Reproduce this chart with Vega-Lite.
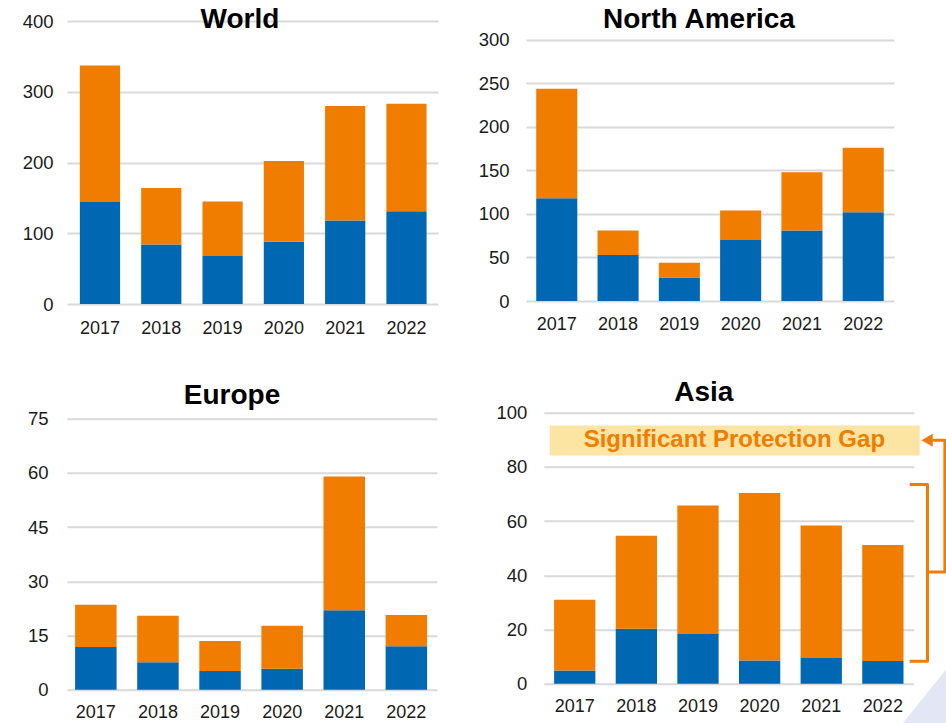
{
  "$schema": "https://vega.github.io/schema/vega-lite/v6.json",
  "padding": {"left": 22, "top": 5, "right": 0, "bottom": 0},
  "background": "white",
  "datasets": {
    "world": [
      {"year": "2017", "series": "Insured losses", "value": 144},
      {"year": "2017", "series": "Uninsured losses", "value": 193},
      {"year": "2018", "series": "Insured losses", "value": 84},
      {"year": "2018", "series": "Uninsured losses", "value": 80},
      {"year": "2019", "series": "Insured losses", "value": 68},
      {"year": "2019", "series": "Uninsured losses", "value": 77},
      {"year": "2020", "series": "Insured losses", "value": 88},
      {"year": "2020", "series": "Uninsured losses", "value": 114},
      {"year": "2021", "series": "Insured losses", "value": 118},
      {"year": "2021", "series": "Uninsured losses", "value": 162},
      {"year": "2022", "series": "Insured losses", "value": 131},
      {"year": "2022", "series": "Uninsured losses", "value": 152}
    ],
    "na": [
      {"year": "2017", "series": "Insured losses", "value": 118},
      {"year": "2017", "series": "Uninsured losses", "value": 126},
      {"year": "2018", "series": "Insured losses", "value": 53},
      {"year": "2018", "series": "Uninsured losses", "value": 28},
      {"year": "2019", "series": "Insured losses", "value": 27},
      {"year": "2019", "series": "Uninsured losses", "value": 17},
      {"year": "2020", "series": "Insured losses", "value": 70},
      {"year": "2020", "series": "Uninsured losses", "value": 34},
      {"year": "2021", "series": "Insured losses", "value": 81},
      {"year": "2021", "series": "Uninsured losses", "value": 67},
      {"year": "2022", "series": "Insured losses", "value": 102},
      {"year": "2022", "series": "Uninsured losses", "value": 74}
    ],
    "europe": [
      {"year": "2017", "series": "Insured losses", "value": 11.8},
      {"year": "2017", "series": "Uninsured losses", "value": 11.7},
      {"year": "2018", "series": "Insured losses", "value": 7.6},
      {"year": "2018", "series": "Uninsured losses", "value": 12.9},
      {"year": "2019", "series": "Insured losses", "value": 5.2},
      {"year": "2019", "series": "Uninsured losses", "value": 8.3},
      {"year": "2020", "series": "Insured losses", "value": 5.8},
      {"year": "2020", "series": "Uninsured losses", "value": 11.9},
      {"year": "2021", "series": "Insured losses", "value": 22.0},
      {"year": "2021", "series": "Uninsured losses", "value": 37.0},
      {"year": "2022", "series": "Insured losses", "value": 12.0},
      {"year": "2022", "series": "Uninsured losses", "value": 8.7}
    ],
    "asia": [
      {"year": "2017", "series": "Insured losses", "value": 4.9},
      {"year": "2017", "series": "Uninsured losses", "value": 26.1},
      {"year": "2018", "series": "Insured losses", "value": 20.3},
      {"year": "2018", "series": "Uninsured losses", "value": 34.3},
      {"year": "2019", "series": "Insured losses", "value": 18.3},
      {"year": "2019", "series": "Uninsured losses", "value": 47.5},
      {"year": "2020", "series": "Insured losses", "value": 8.6},
      {"year": "2020", "series": "Uninsured losses", "value": 61.8},
      {"year": "2021", "series": "Insured losses", "value": 9.5},
      {"year": "2021", "series": "Uninsured losses", "value": 48.9},
      {"year": "2022", "series": "Insured losses", "value": 8.4},
      {"year": "2022", "series": "Uninsured losses", "value": 42.8}
    ],
    "gapBox": [{"x1": 0.016, "x2": 1.016, "y1": 84.2, "y2": 95.3}],
    "gapLabel": [{"label": "Significant Protection Gap", "x": 0.515, "y": 89.8}],
    "bracket": [
      {"path": "bracket", "i": 0, "x": 0.989, "y": 73.5},
      {"path": "bracket", "i": 1, "x": 1.037, "y": 73.5},
      {"path": "bracket", "i": 2, "x": 1.037, "y": 8.3},
      {"path": "bracket", "i": 3, "x": 0.989, "y": 8.3},
      {"path": "connector", "i": 0, "x": 1.037, "y": 41.2},
      {"path": "connector", "i": 1, "x": 1.084, "y": 41.2},
      {"path": "connector", "i": 2, "x": 1.084, "y": 89.8},
      {"path": "connector", "i": 3, "x": 1.05, "y": 89.8}
    ],
    "arrowHead": [{"x": 1.036, "y": 89.8}],
    "corner": [
      {"x": 0.970, "y": -14.6, "y2": -14.6},
      {"x": 1.089, "y": 5.6, "y2": -14.6}
    ]
  },
  "vconcat": [
    {
      "hconcat": [
        {
          "width": 371, "height": 283,
          "title": {"text": "World", "offset": -21.7, "dx": -12.5},
          "data": {"name": "world"},
          "mark": {"type": "bar"},
          "encoding": {
            "x": {"field": "year", "type": "nominal", "title": null, "scale": {"paddingInner": 0.344, "paddingOuter": 0.198, "align": 0.53}, "axis": {"labelPadding": 15}},
            "y": {"field": "value", "type": "quantitative", "title": null, "stack": "zero", "scale": {"domain": [0, 400], "nice": false}, "axis": {"values": [0, 100, 200, 300, 400], "labelPadding": 14}},
            "color": {"field": "series", "type": "nominal", "scale": {"domain": ["Insured losses", "Uninsured losses"], "range": ["#0068B3", "#F07D00"]}, "legend": null},
            "order": {"field": "series", "type": "nominal", "sort": "ascending"}
          }
        },
        {
          "width": 368, "height": 280,
          "title": {"text": "North America", "offset": -12.7, "dx": -11},
          "data": {"name": "na"},
          "mark": {"type": "bar"},
          "encoding": {
            "x": {"field": "year", "type": "nominal", "title": null, "scale": {"paddingInner": 0.33, "paddingOuter": 0.167}, "axis": {"labelPadding": 14}},
            "y": {"field": "value", "type": "quantitative", "title": null, "stack": "zero", "scale": {"domain": [0, 321.8], "nice": false}, "axis": {"values": [0, 50, 100, 150, 200, 250, 300], "minExtent": 47}},
            "color": {"field": "series", "type": "nominal", "scale": {"domain": ["Insured losses", "Uninsured losses"], "range": ["#0068B3", "#F07D00"]}, "legend": null},
            "order": {"field": "series", "type": "nominal", "sort": "ascending"}
          }
        }
      ],
      "spacing": 40
    },
    {
      "hconcat": [
        {
          "width": 370, "height": 277,
          "title": {"text": "Europe", "offset": 0, "dx": -20},
          "data": {"name": "europe"},
          "mark": {"type": "bar"},
          "encoding": {
            "x": {"field": "year", "type": "nominal", "title": null, "scale": {"paddingInner": 0.332, "paddingOuter": 0.145, "align": 0.45}, "axis": {"labelPadding": 14}},
            "y": {"field": "value", "type": "quantitative", "title": null, "stack": "zero", "scale": {"domain": [0, 76.66], "nice": false}, "axis": {"values": [0, 15, 30, 45, 60, 75], "labelPadding": 19}},
            "color": {"field": "series", "type": "nominal", "scale": {"domain": ["Insured losses", "Uninsured losses"], "range": ["#0068B3", "#F07D00"]}, "legend": null},
            "order": {"field": "series", "type": "nominal", "sort": "ascending"}
          }
        },
        {
          "width": 370, "height": 271,
          "title": {"text": "Asia", "offset": -3.1, "dx": -25},
          "layer": [
            {
              "data": {"name": "corner"},
              "mark": {"type": "area", "color": "#E3E7F5"},
              "encoding": {
                "x": {"field": "x", "type": "quantitative", "scale": {"domain": [0, 1], "nice": false, "zero": false}, "axis": null},
                "y": {"field": "y", "type": "quantitative", "scale": {"domain": [0, 100], "nice": false}},
                "y2": {"field": "y2"}
              }
            },
            {
              "data": {"name": "asia"},
              "mark": {"type": "bar"},
              "encoding": {
                "x": {"field": "year", "type": "nominal", "title": null, "scale": {"paddingInner": 0.33, "paddingOuter": 0.167}, "axis": {"labelPadding": 14}},
                "y": {"field": "value", "type": "quantitative", "title": null, "stack": "zero", "scale": {"domain": [0, 100], "nice": false}, "axis": {"values": [0, 20, 40, 60, 80, 100], "minExtent": 47}},
                "color": {"field": "series", "type": "nominal", "scale": {"domain": ["Insured losses", "Uninsured losses"], "range": ["#0068B3", "#F07D00"]}, "legend": null},
                "order": {"field": "series", "type": "nominal", "sort": "ascending"}
              }
            },
            {
              "data": {"name": "gapBox"},
              "mark": {"type": "rect", "color": "#FCE5A2"},
              "encoding": {
                "x": {"field": "x1", "type": "quantitative", "scale": {"domain": [0, 1], "nice": false, "zero": false}, "axis": null},
                "x2": {"field": "x2"},
                "y": {"field": "y1", "type": "quantitative", "scale": {"domain": [0, 100], "nice": false}},
                "y2": {"field": "y2"}
              }
            },
            {
              "data": {"name": "gapLabel"},
              "mark": {"type": "text", "font": "Liberation Sans", "fontSize": 24, "fontWeight": "bold", "color": "#F07D00", "align": "center", "baseline": "middle"},
              "encoding": {
                "x": {"field": "x", "type": "quantitative", "scale": {"domain": [0, 1], "nice": false, "zero": false}, "axis": null},
                "y": {"field": "y", "type": "quantitative", "scale": {"domain": [0, 100], "nice": false}},
                "text": {"field": "label"}
              }
            },
            {
              "data": {"name": "bracket"},
              "mark": {"type": "line", "color": "#F07D00", "strokeWidth": 3, "strokeJoin": "round"},
              "encoding": {
                "x": {"field": "x", "type": "quantitative", "scale": {"domain": [0, 1], "nice": false, "zero": false}, "axis": null},
                "y": {"field": "y", "type": "quantitative", "scale": {"domain": [0, 100], "nice": false}},
                "detail": {"field": "path"},
                "order": {"field": "i", "type": "quantitative"}
              }
            },
            {
              "data": {"name": "arrowHead"},
              "mark": {"type": "point", "shape": "triangle-left", "filled": true, "color": "#F07D00", "size": 170, "opacity": 1},
              "encoding": {
                "x": {"field": "x", "type": "quantitative", "scale": {"domain": [0, 1], "nice": false, "zero": false}, "axis": null},
                "y": {"field": "y", "type": "quantitative", "scale": {"domain": [0, 100], "nice": false}}
              }
            }
          ],
          "resolve": {"scale": {"x": "independent"}, "axis": {"x": "independent"}}
        }
      ],
      "spacing": 58.8
    }
  ],
  "spacing": 41.7,
  "config": {
    "view": {"stroke": null},
    "axis": {"domain": false, "ticks": false, "labelFont": "Liberation Sans", "labelColor": "#1a1a1a"},
    "axisX": {"grid": false, "labelAngle": 0, "labelFontSize": 18},
    "axisY": {"gridColor": "#D9D9D9", "gridWidth": 2, "labelPadding": 17, "labelFontSize": 18.5},
    "title": {"font": "Liberation Sans", "fontSize": 28, "fontWeight": "bold", "color": "#000000", "frame": "group", "anchor": "middle"}
  }
}
